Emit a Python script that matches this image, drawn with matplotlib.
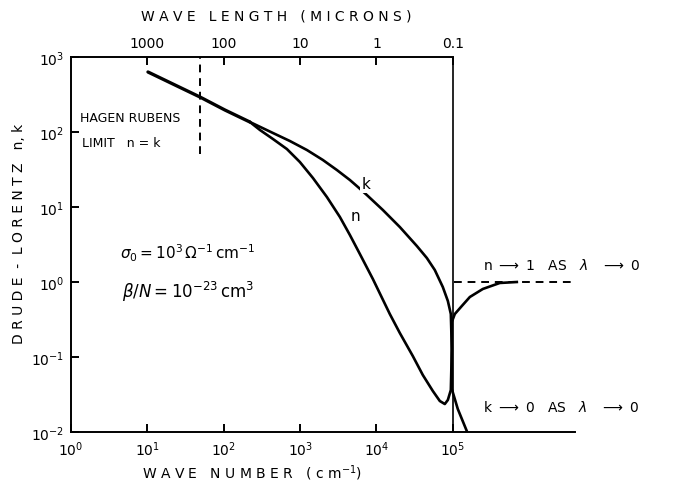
import matplotlib
matplotlib.use("Agg")
import matplotlib.pyplot as plt
import numpy as np

# wave number (cm^-1) and optical constants, read as log10 values
common_logx = [1.008, 1.361, 1.688, 2.016, 2.343]
common_logy = [2.800, 2.627, 2.467, 2.293, 2.133]

k_logx = [2.644, 2.866, 3.089, 3.298, 3.482, 3.652, 3.757, 3.874, 4.084, 4.306, 4.529,
          4.660, 4.764, 4.869, 4.935, 4.974, 4.987, 4.987, 5.065, 5.183]
k_logy = [1.987, 1.880, 1.760, 1.627, 1.493, 1.360, 1.267, 1.160, 0.960, 0.733, 0.480,
          0.320, 0.160, -0.067, -0.253, -0.427, -0.893, -1.427, -1.693, -1.987]

n_logx = [2.474, 2.644, 2.827, 2.997, 3.168, 3.351, 3.521, 3.652, 3.783, 3.953, 4.175,
          4.306, 4.476, 4.607, 4.738, 4.830, 4.895, 4.935, 4.974, 4.987, 4.987, 5.026,
          5.118, 5.223, 5.393, 5.615, 5.838]
n_logy = [2.027, 1.907, 1.773, 1.600, 1.387, 1.133, 0.867, 0.627, 0.373, 0.040, -0.427,
          -0.680, -0.987, -1.240, -1.453, -1.587, -1.627, -1.573, -1.440, -0.893, -0.533,
          -0.427, -0.320, -0.200, -0.093, -0.013, 0.0]

hagen_rubens_wn = 49.0          # dashed limit line
plasma_wn = 1e5                  # right frame line
top_ticks = [10, 100, 1e3, 1e4, 1e5]
top_labels = ["1000", "100", "10", "1", "0.1"]
y_ticks = [1e-2, 1e-1, 1e0, 1e1, 1e2, 1e3]
x_ticks = [1e0, 1e1, 1e2, 1e3, 1e4, 1e5]

fig = plt.figure(figsize=(6.77, 4.85), dpi=100)
ax = fig.add_axes([71 / 677, 1 - 433 / 485, (575 - 71) / 677, (433 - 58) / 485])

ax.set_xscale("log")
ax.set_yscale("log")
ax.set_xlim(1, 10 ** 6.6)
ax.set_ylim(1e-2, 1e3)

lw = 1.9
cx = 10 ** np.array(common_logx)
cy = 10 ** np.array(common_logy)
ax.plot(cx, cy, color="black", lw=lw + 0.5, solid_capstyle="round")
kx = np.concatenate([cx[-1:], 10 ** np.array(k_logx)])
ky = np.concatenate([cy[-1:], 10 ** np.array(k_logy)])
ax.plot(kx, ky, color="black", lw=lw, solid_joinstyle="round")
nx = np.concatenate([cx[-1:], 10 ** np.array(n_logx)])
ny = np.concatenate([cy[-1:], 10 ** np.array(n_logy)])
ax.plot(nx, ny, color="black", lw=lw, solid_joinstyle="round")

# frame: vertical line at 0.1 micron, n -> 1 asymptote, Hagen-Rubens limit
ax.plot([plasma_wn, plasma_wn], [1e-2, 1e3], color="black", lw=1.2)
ax.plot([1.05e5, 10 ** 6.55], [1.0, 1.0], color="black", lw=1.4, ls=(0, (4, 3)))
ax.plot([hagen_rubens_wn, hagen_rubens_wn], [51, 1e3], color="black", lw=1.4, ls=(0, (4, 3)))

for s in ["top", "right"]:
    ax.spines[s].set_visible(False)
for s in ["left", "bottom"]:
    ax.spines[s].set_linewidth(1.4)

ax.set_xticks(x_ticks)
ax.set_xticklabels([f"$10^{{{int(np.log10(v))}}}$" for v in x_ticks])
ax.set_yticks(y_ticks)
ax.set_yticklabels([f"$10^{{{int(np.log10(v))}}}$" for v in y_ticks])
ax.minorticks_off()
ax.tick_params(direction="in", length=6, width=1.4, labelsize=10, pad=5)

top = ax.secondary_xaxis("top")
top.set_xticks(top_ticks)
top.set_xticklabels(top_labels)
top.minorticks_off()
top.tick_params(direction="in", length=6, width=1.4, labelsize=10, pad=5)
top.spines["top"].set_bounds(1, plasma_wn)
top.spines["top"].set_linewidth(1.4)

ax.set_xlabel(r"W A V E   N U M B E R   ( c m$^{-1}$)", fontsize=10)
ax.xaxis.set_label_coords(0.36, -0.08)
ax.set_ylabel("D R U D E  -  L O R E N T Z   n, k", fontsize=10)
ax.yaxis.set_label_coords(-0.09, 0.53)
fig.text(276 / 677, 1 - 16 / 485, "W A V E   L E N G T H   ( M I C R O N S )",
         ha="center", va="center", fontsize=10)

# curve labels
ax.text(10 ** 3.87, 10 ** 1.31, "k", fontsize=11, ha="center", va="center",
        bbox=dict(facecolor="white", edgecolor="none", pad=1.5))
ax.text(10 ** 3.66, 10 ** 0.88, "n", fontsize=11, ha="left", va="center")

ax.text(1.31, 158, "HAGEN RUBENS", fontsize=9, ha="left", va="center")
ax.text(1.39, 73, "LIMIT   n = k", fontsize=9, ha="left", va="center")

ax.text(4.4, 10 ** 0.4, r"$\sigma_0 = 10^3\,\Omega^{-1}\,\mathrm{cm}^{-1}$",
        fontsize=11, ha="left", va="center")
ax.text(4.6, 0.76, r"$\beta / N = 10^{-23}\,\mathrm{cm}^3$",
        fontsize=12, ha="left", va="center")

ax.text(2.45e5, 10 ** 0.24, r"n $\longrightarrow$ 1   AS   $\lambda$   $\longrightarrow$ 0",
        fontsize=10, ha="left", va="center", clip_on=False)
ax.text(2.45e5, 0.0216, r"k $\longrightarrow$ 0   AS   $\lambda$   $\longrightarrow$ 0",
        fontsize=10, ha="left", va="center", clip_on=False)

fig.savefig("out.png", dpi=100)
